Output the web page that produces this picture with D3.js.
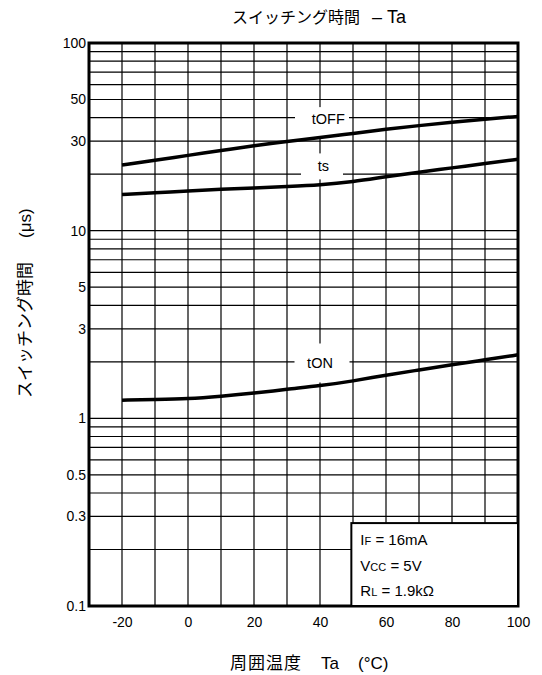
<!DOCTYPE html>
<html>
<head>
<meta charset="utf-8">
<script src="https://cdn.jsdelivr.net/npm/d3@7"></script>
<style>
  body { margin: 0; background: #fff; }
  svg { display: block; }
  text { font-family: "Liberation Sans", Arial, "Noto Sans CJK JP", sans-serif; fill: #000; }
  .jp { font-family: "Noto Sans CJK JP", "Liberation Sans", sans-serif; }
  .lat { font-family: "Liberation Sans", Arial, sans-serif; }
</style>
</head>
<body>
<script>
const width = 542;
const height = 675;
const margin = {top: 43, left: 89, bottom: 69, right: 24};

// 周囲温度 Ta (°C)
const temps = [-20, -10, 0, 10, 20, 30, 40, 50, 60, 70, 80, 90, 100];
// スイッチング時間 (μs)
const tOff = [22.4, 23.7, 25.2, 26.7, 28.4, 29.9, 31.3, 33.0, 34.7, 36.3, 37.9, 39.3, 40.6];
const tS   = [15.6, 15.9, 16.3, 16.6, 16.9, 17.2, 17.5, 18.2, 19.4, 20.5, 21.6, 22.8, 24.0];
const tOn  = [1.25, 1.26, 1.27, 1.31, 1.36, 1.43, 1.49, 1.58, 1.70, 1.81, 1.93, 2.05, 2.18];

const xTicks = [-20, 0, 20, 40, 60, 80, 100];
const yTicks = [0.1, 0.3, 0.5, 1, 3, 5, 10, 30, 50, 100];

// curve labels: name, temperature, value of label anchor
const labelNames = ['tOFF', 'ts', 'tON'];
const labelTemps = [42.5, 41, 40];
const labelVals = [39.3, 22.0, 1.96];

const legendLines = [['I', 'F', ' = 16mA'], ['V', 'CC', ' = 5V'], ['R', 'L', ' = 1.9kΩ']];

const x = d3.scaleLinear()
  .domain([-30, 100])
  .range([margin.left, width - margin.right]);

const y = d3.scaleLog()
  .domain([0.1, 100])
  .range([height - margin.bottom, margin.top]);

const svg = d3.select('body').append('svg')
  .attr('width', width).attr('height', height);

// grid
const vGrid = d3.range(-20, 100, 10);
const hGrid = [];
[0.1, 1, 10].forEach(d => { for (let k = 1; k <= 9; k++) hGrid.push(d * k); });

const grid = svg.append('g').attr('stroke', '#000').attr('stroke-width', 1.2);
grid.selectAll('.v').data(vGrid).enter().append('line')
  .attr('x1', d => x(d)).attr('x2', d => x(d))
  .attr('y1', y(0.1)).attr('y2', y(100));
grid.selectAll('.h').data(hGrid).enter().append('line')
  .attr('x1', x(-30)).attr('x2', x(100))
  .attr('y1', d => y(d)).attr('y2', d => y(d));

// label boxes (white, break the grid)
const boxW = [54, 42, 55];
const boxTop = [12, 13, 20];
const boxBottom = [17, 13, 19];
const labels = svg.append('g');
labelNames.forEach((name, i) => {
  const cx = x(40) + 2;
  const cy = y(labelVals[i]);
  labels.append('rect')
    .attr('x', cx - boxW[i] / 2).attr('width', boxW[i])
    .attr('y', cy - boxTop[i]).attr('height', boxTop[i] + boxBottom[i])
    .attr('fill', '#fff');
});

// curves
const series = [tOff, tS, tOn];
const line = d3.line()
  .x((d, i) => x(temps[i]))
  .y(d => y(d))
  .curve(d3.curveBasis);

svg.append('g')
  .attr('fill', 'none').attr('stroke', '#000').attr('stroke-width', 3.5)
  .selectAll('path').data(series).enter().append('path')
  .attr('d', line);

labelNames.forEach((name, i) => {
  labels.append('text')
    .attr('x', x(labelTemps[i])).attr('y', y(labelVals[i]))
    .attr('text-anchor', 'middle').attr('dominant-baseline', 'central')
    .attr('font-size', 14.5)
    .text(name);
});

// frame
svg.append('rect')
  .attr('x', x(-30)).attr('y', y(100))
  .attr('width', x(100) - x(-30)).attr('height', y(0.1) - y(100))
  .attr('fill', 'none').attr('stroke', '#000').attr('stroke-width', 3);

// axes
const xAxis = g => g
  .attr('transform', `translate(0, ${y(0.1)})`)
  .call(d3.axisBottom(x).tickValues(xTicks).tickSize(0).tickPadding(11).tickFormat(d => String(d)))
  .call(g => g.select('.domain').remove())
  .call(g => g.selectAll('text').attr('font-size', 14).attr('font-family', '"Liberation Sans", Arial, sans-serif'));

const yAxis = g => g
  .attr('transform', `translate(${x(-30) - 2}, 0)`)
  .call(d3.axisLeft(y).tickValues(yTicks).tickSize(0).tickPadding(1).tickFormat(d => String(d)))
  .call(g => g.select('.domain').remove())
  .call(g => g.selectAll('text').attr('font-size', 14).attr('font-family', '"Liberation Sans", Arial, sans-serif'));

svg.append('g').call(xAxis);
svg.append('g').call(yAxis);

// legend box
const legend = svg.append('g');
legend.append('rect')
  .attr('x', x(49.5)).attr('y', y(0.28) + 1)
  .attr('width', x(100) - x(49.5)).attr('height', y(0.1) - y(0.28) - 1)
  .attr('fill', '#fff').attr('stroke', '#000').attr('stroke-width', 2);
legendLines.forEach((parts, i) => {
  const t = legend.append('text')
    .attr('x', x(49.5) + 9).attr('y', y(0.28) + 23 + i * 25.5)
    .attr('font-size', 15);
  t.append('tspan').text(parts[0]);
  t.append('tspan').attr('font-size', 11).text(parts[1]);
  t.append('tspan').text(parts[2]);
});

// titles
const title = svg.append('text')
  .attr('x', 232).attr('y', 23);
title.append('tspan').attr('class', 'jp').attr('font-size', 16).text('スイッチング時間');
title.append('tspan').attr('class', 'lat').attr('font-size', 18).attr('dx', 12).text('– Ta');

const xt = svg.append('text')
  .attr('x', 230).attr('y', 669);
xt.append('tspan').attr('class', 'jp').attr('font-size', 17).attr('letter-spacing', 1).text('周囲温度');
xt.append('tspan').attr('class', 'lat').attr('font-size', 17).attr('dx', 19).text('Ta');
xt.append('tspan').attr('class', 'lat').attr('font-size', 17).attr('dx', 19).text('(°C)');

const yt = svg.append('text')
  .attr('transform', 'translate(31, 398) rotate(-90)');
yt.append('tspan').attr('class', 'jp').attr('font-size', 17).text('スイッチング時間');
yt.append('tspan').attr('class', 'lat').attr('font-size', 17).attr('dx', 24).text('(μs)');

svg.node();
</script>
</body>
</html>
